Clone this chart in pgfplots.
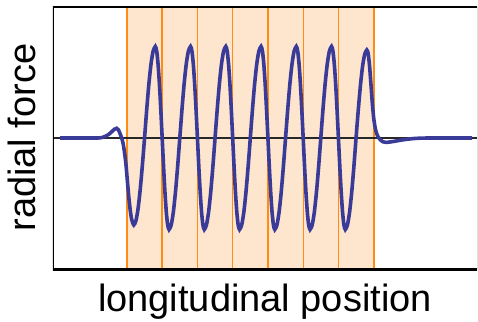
\documentclass[border=0pt]{standalone}
\usepackage{pgfplots}
\pgfplotsset{compat=1.18}
\usepackage{fontspec}
\setmainfont{Liberation Sans}
\definecolor{wave}{RGB}{58,58,153}
\definecolor{peach}{RGB}{253,229,206}
\definecolor{orangeline}{RGB}{255,140,20}
\definecolor{zeroline}{RGB}{40,40,40}
\begin{document}
\begin{tikzpicture}
\path[use as bounding box] (-52.8pt,-51pt) rectangle (425.2pt,270pt);
\begin{axis}[
  scale only axis,
  width=424.5pt, height=263.3pt,
  xmin=52.8, xmax=477.3, ymin=-132, ymax=131.3,
  axis line style={draw=none},
  xtick=\empty, ytick=\empty,
  clip=true,
]
% shaded region
\addplot[draw=none, fill=peach] coordinates {(126.8,-132) (373.8,-132) (373.8,131.3) (126.8,131.3)} -- cycle;
% orange cell boundaries
\addplot[orangeline, line width=1.4pt] coordinates {(126.8,-132) (126.8,131.3)};
\addplot[orangeline, line width=1.4pt] coordinates {(162.1,-132) (162.1,131.3)};
\addplot[orangeline, line width=1.4pt] coordinates {(197.4,-132) (197.4,131.3)};
\addplot[orangeline, line width=1.4pt] coordinates {(232.7,-132) (232.7,131.3)};
\addplot[orangeline, line width=1.4pt] coordinates {(268.0,-132) (268.0,131.3)};
\addplot[orangeline, line width=1.4pt] coordinates {(303.2,-132) (303.2,131.3)};
\addplot[orangeline, line width=1.4pt] coordinates {(338.5,-132) (338.5,131.3)};
\addplot[orangeline, line width=1.4pt] coordinates {(373.8,-132) (373.8,131.3)};
% zero line
\addplot[zeroline, line width=1.1pt] coordinates {(52.8,0) (477.3,0)};
% radial force curve
\addplot[wave, line width=3.6pt, smooth, tension=0.4] coordinates {
(60,0) (70,0) (80,0) (90,0) (98,0) (102,0.5) (106,2) (109,3.8) (112,6.5) (114.5,8.8) (116.7,9.7) (118.5,8) (120,4.5) (121.7,0) (123.2,-6) (124.6,-15) (126,-27) (127.3,-42) (128.7,-58) (130.2,-72) (131.7,-81.5) (133.8,-87)
(135.95,-82.7) (138.1,-70.4) (140.25,-51.1) (142.4,-26.9) (144.55,0) (146.7,28.3) (148.85,53.8) (151.0,74.0) (153.15,87.0) (155.3,91.5) (156.675,87.0) (158.05,74.0) (159.425,53.8) (160.8,28.3) (162.175,0) (163.55,-28.3) (164.925,-53.8) (166.3,-74.0) (167.675,-87.0)
(169.05,-91.5) (171.2,-87.0) (173.35,-74.0) (175.5,-53.8) (177.65,-28.3) (179.8,0) (181.95,28.3) (184.1,53.8) (186.25,74.0) (188.4,87.0) (190.55,91.5) (191.925,87.0) (193.3,74.0) (194.675,53.8) (196.05,28.3) (197.425,0) (198.8,-28.3) (200.175,-53.8) (201.55,-74.0) (202.925,-87.0)
(204.3,-91.5) (206.45,-87.0) (208.6,-74.0) (210.75,-53.8) (212.9,-28.3) (215.05,0) (217.2,28.3) (219.35,53.8) (221.5,74.0) (223.65,87.0) (225.8,91.5) (227.175,87.0) (228.55,74.0) (229.925,53.8) (231.3,28.3) (232.675,0) (234.05,-28.3) (235.425,-53.8) (236.8,-74.0) (238.175,-87.0)
(239.55,-91.5) (241.7,-87.0) (243.85,-74.0) (246.0,-53.8) (248.15,-28.3) (250.3,0) (252.45,28.3) (254.6,53.8) (256.75,74.0) (258.9,87.0) (261.05,91.5) (262.425,87.0) (263.8,74.0) (265.175,53.8) (266.55,28.3) (267.925,0) (269.3,-28.3) (270.675,-53.8) (272.05,-74.0) (273.425,-87.0)
(274.8,-91.5) (276.95,-87.0) (279.1,-74.0) (281.25,-53.8) (283.4,-28.3) (285.55,0) (287.7,28.3) (289.85,53.8) (292.0,74.0) (294.15,87.0) (296.3,91.5) (297.675,87.0) (299.05,74.0) (300.425,53.8) (301.8,28.3) (303.175,0) (304.55,-28.3) (305.925,-53.8) (307.3,-74.0) (308.675,-87.0)
(310.05,-91.5) (312.2,-87.0) (314.35,-74.0) (316.5,-53.8) (318.65,-28.3) (320.8,0) (322.95,28.3) (325.1,53.8) (327.25,74.0) (329.4,87.0) (331.55,91.5) (332.925,87.0) (334.3,74.0) (335.675,53.8) (337.05,28.3) (338.425,0) (339.8,-28.3) (341.175,-53.8) (342.55,-74.0) (343.925,-87.0)
(345.3,-91.5) (347.45,-87.0) (349.6,-74.0) (351.75,-53.8) (353.9,-28.3) (356.05,0) (358.2,27.2) (360.35,51.7) (362.5,71.2) (364.65,83.7) (366.8,88)
(368.175,84.5) (369.55,72) (370.925,54) (372.3,35) (373.7,20) (375.2,10) (376.8,4) (378.5,0.5) (380.5,-2) (383,-3.8) (386,-4.4) (390,-4) (395,-3.2) (400,-2.3) (406,-1.4) (413,-0.6) (422,-0.1) (435,0) (450,0) (472,0)
};
% frame
\draw[black, line width=3.3pt, line join=miter] (rel axis cs:1,1) -- (rel axis cs:0,1) -- (rel axis cs:0,0) -- (rel axis cs:1,0);
\draw[gray!70, line width=0.9pt] (rel axis cs:1,0) -- (rel axis cs:1,1);
\end{axis}
\node[anchor=base, inner sep=0pt] at (212.2pt,-41.5pt) {\fontsize{38}{41}\selectfont longitudinal position};
\node[anchor=base, rotate=90, inner sep=0pt] at (-17.8pt,132.5pt) {\fontsize{38}{41}\selectfont radial force};
\end{tikzpicture}
\end{document}
